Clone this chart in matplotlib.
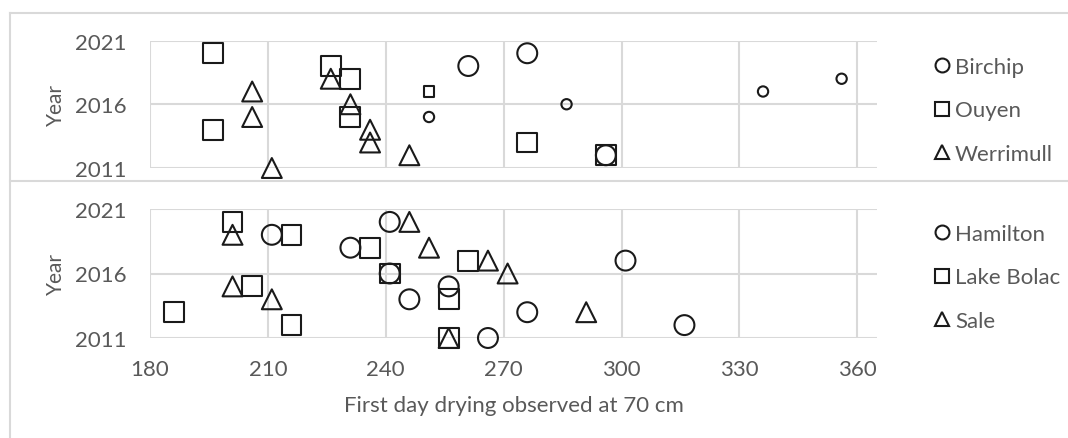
import matplotlib.pyplot as plt
from matplotlib.lines import Line2D

plt.rcParams['font.family'] = ['Lato', 'DejaVu Sans']

# --- data (day of year, year) ---
# top panel
birchip_day = [261, 276, 296]
birchip_year = [2019, 2020, 2012]
birchip_small_day = [251, 286, 336, 356]
birchip_small_year = [2015, 2016, 2017, 2018]
ouyen_day = [196, 226, 231, 231, 196, 276, 296]
ouyen_year = [2020, 2019, 2018, 2015, 2014, 2013, 2012]
ouyen_small_day = [251]
ouyen_small_year = [2017]
werrimull_day = [206, 206, 226, 231, 236, 236, 246, 211]
werrimull_year = [2017, 2015, 2018, 2016, 2014, 2013, 2012, 2011]

# bottom panel
hamilton_day = [211, 231, 241, 241, 246, 256, 266, 276, 301, 316]
hamilton_year = [2019, 2018, 2020, 2016, 2014, 2015, 2011, 2013, 2017, 2012]
lakebolac_day = [201, 216, 236, 241, 206, 186, 216, 261, 256, 256]
lakebolac_year = [2020, 2019, 2018, 2016, 2015, 2013, 2012, 2017, 2014, 2011]
sale_day = [201, 246, 251, 266, 271, 201, 211, 256, 291]
sale_year = [2019, 2020, 2018, 2017, 2016, 2015, 2014, 2011, 2013]

top_labels = ['Birchip', 'Ouyen', 'Werrimull']
bottom_labels = ['Hamilton', 'Lake Bolac', 'Sale']
x_ticks = [180, 210, 240, 270, 300, 330, 360]
y_ticks = [2011, 2016, 2021]

TEXT = '#595959'
GRID = '#d9d9d9'
EDGE = '#1a1a1a'
BIG = 205
SMALL = 55
LW = 1.5
FS = 16

fig = plt.figure(figsize=(10.68, 4.39), dpi=100)
ax1 = fig.add_axes([150 / 1068, 1 - 169 / 439, 727 / 1068, 127.5 / 439])
ax2 = fig.add_axes([150 / 1068, 1 - 339 / 439, 727 / 1068, 129 / 439])


def style(ax, show_x):
    ax.set_xlim(180, 365)
    ax.set_ylim(2011, 2021)
    ax.set_xticks(x_ticks)
    ax.set_yticks(y_ticks)
    for s in ax.spines.values():
        s.set_visible(False)
    ax.grid(True, color=GRID, lw=1.5)
    ax.set_axisbelow(True)
    ax.tick_params(length=0, labelsize=FS, labelcolor=TEXT, pad=17)
    ax.tick_params(axis='x', pad=15)
    if not show_x:
        ax.tick_params(axis='x', labelbottom=False)
    ax.set_ylabel('Year', fontsize=15, color=TEXT)
    ax.yaxis.set_label_coords(-0.115, 0.5)


def pts(ax, x, y, m, s):
    ax.scatter(x, y, s=s, marker=m, facecolors='none', edgecolors=EDGE,
               linewidths=LW, clip_on=False, zorder=3)


style(ax1, False)
pts(ax1, ouyen_day, ouyen_year, 's', BIG)
pts(ax1, ouyen_small_day, ouyen_small_year, 's', SMALL)
pts(ax1, werrimull_day, werrimull_year, '^', BIG)
pts(ax1, birchip_day, birchip_year, 'o', BIG)
pts(ax1, birchip_small_day, birchip_small_year, 'o', SMALL)

style(ax2, True)
pts(ax2, lakebolac_day, lakebolac_year, 's', BIG)
pts(ax2, sale_day, sale_year, '^', BIG)
pts(ax2, hamilton_day, hamilton_year, 'o', BIG)
ax2.set_xlabel('First day drying observed at 70 cm', fontsize=FS, color=TEXT)
ax2.xaxis.set_label_coords(0.5, -0.44)


def legend(ax, labels, y):
    handles = [Line2D([], [], ls='none', marker=m, markersize=10,
                      markerfacecolor='none', markeredgecolor=EDGE,
                      markeredgewidth=LW) for m in ['o', 's', '^']]
    ax.legend(handles, labels, loc='center left', bbox_to_anchor=(934 / 1068, y),
              bbox_transform=fig.transFigure, frameon=False, fontsize=FS,
              labelcolor=TEXT, handlelength=0.7, handletextpad=0.25,
              labelspacing=1.05, borderpad=0, borderaxespad=0)


legend(ax1, top_labels, 1 - 111.5 / 439)
legend(ax2, bottom_labels, 1 - 278.5 / 439)

# panel frames
fig.add_artist(Line2D([9.5 / 1068, 9.5 / 1068], [0, 1 - 13.5 / 439],
                      transform=fig.transFigure, color=GRID, lw=1.5))
fig.add_artist(Line2D([9.5 / 1068, 1], [1 - 13.5 / 439, 1 - 13.5 / 439],
                      transform=fig.transFigure, color=GRID, lw=1.5))
fig.add_artist(Line2D([9.5 / 1068, 1], [1 - 182 / 439, 1 - 182 / 439],
                      transform=fig.transFigure, color=GRID, lw=1.5))

fig.savefig('out.png', dpi=100)
